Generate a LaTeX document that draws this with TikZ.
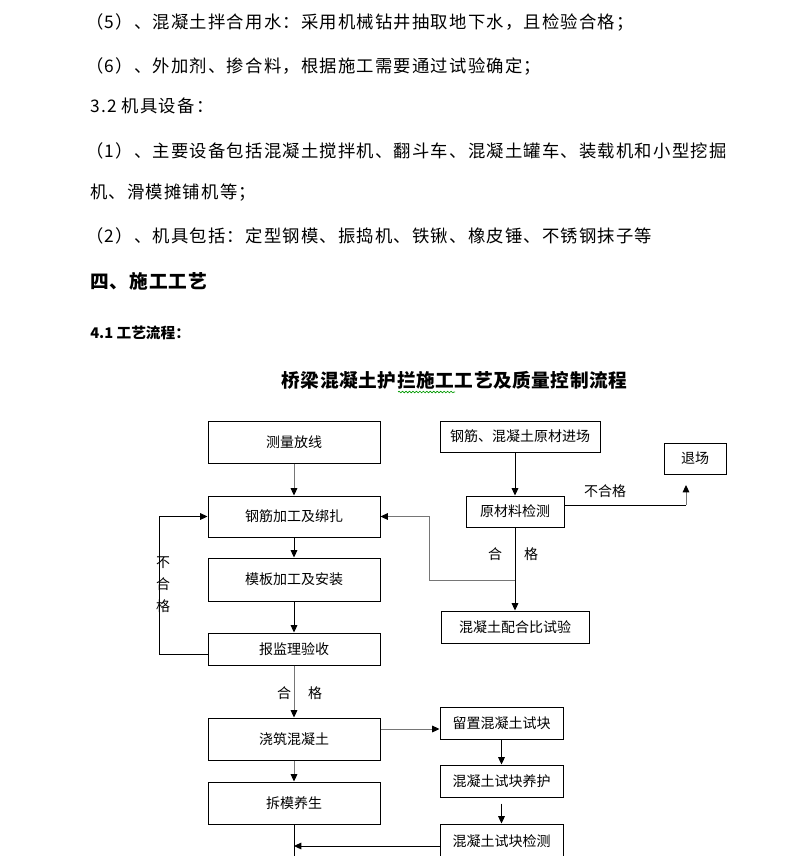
\documentclass[tikz,border=0pt]{standalone}
\usepackage{fontspec}
\setmainfont{Noto Sans CJK SC}
\newfontfamily\bodycjk[LetterSpace=7]{Noto Sans CJK SC}
\newfontfamily\headcjk[LetterSpace=5]{Noto Sans CJK SC}
\newfontfamily\titlecjk[LetterSpace=3]{Noto Sans CJK SC}
\usetikzlibrary{arrows.meta,decorations.pathmorphing}
\definecolor{linegray}{RGB}{118,118,118}
\tikzset{
  flowbox/.style 2 args={draw, line width=0.75pt, inner sep=0pt,
    minimum width=#1*0.75pt, minimum height=#2*0.75pt,
    font=\fontsize{10.5}{12}\selectfont},
  flowline/.style={line width=0.75pt},
  flowarrow/.style={line width=0.75pt, -{Triangle[length=5.5pt,width=5pt,color=black]}},
  bodytext/.style={anchor=west, inner sep=0pt, font=\bodycjk\fontsize{13}{15}\selectfont},
  tag/.style={inner sep=0pt, font=\fontsize{10.5}{12}\selectfont}
}
\begin{document}
\begin{tikzpicture}[x=0.75pt,y=-0.75pt]
    \useasboundingbox (0,0) rectangle (797,856);
    % text above the chart
    \node[bodytext] (item5) at (86,22) {（5）、混凝土拌合用水：采用机械钻井抽取地下水，且检验合格；};
    \node[bodytext] (item6) at (86,66) {（6）、外加剂、掺合料，根据施工需要通过试验确定；};
    \node[bodytext] (sec32) at (90,106) {3.2 机具设备：};
    \node[bodytext] (item1) at (86,151) {（1）、主要设备包括混凝土搅拌机、翻斗车、混凝土罐车、装载机和小型挖掘};
    \node[bodytext] (item1b) at (90,193) {机、滑模摊铺机等；};
    \node[bodytext] (item2) at (86,236) {（2）、机具包括：定型钢模、振捣机、铁锹、橡皮锤、不锈钢抹子等};
    \node[anchor=west, inner sep=0pt, font=\headcjk\bfseries\fontsize{14}{16}\selectfont] (sec4) at (90,281) {四、施工工艺};
    \node[anchor=west, inner sep=0pt, font=\bfseries\fontsize{11}{13}\selectfont] (sec41) at (90,333) {4.1 工艺流程：};
    \node[inner sep=0pt, font=\titlecjk\bfseries\fontsize{14}{16}\selectfont] (title) at (454.5,380) {桥梁混凝土护拦施工工艺及质量控制流程};
    \draw[green!60!black, line width=0.5pt, decorate, decoration={snake, amplitude=0.6pt, segment length=2.6pt}] (398,392) -- (455,392);
    % left column
    \node[flowbox={172}{42}] (survey) at (294,442) {测量放线};
    \node[flowbox={172}{41}] (rebar) at (294,516.5) {钢筋加工及绑扎};
    \node[flowbox={172}{43}] (form) at (294,579.5) {模板加工及安装};
    \node[flowbox={172}{32}] (check) at (294,649) {报监理验收};
    \node[flowbox={172}{42}] (pour) at (294,739) {浇筑混凝土};
    \node[flowbox={172}{42}] (strip) at (294,803) {拆模养生};
    % right column
    \node[flowbox={160}{31}] (raw) at (520,436.5) {钢筋、混凝土原材进场};
    \node[flowbox={62}{31}] (reject) at (695,458.5) {退场};
    \node[flowbox={98}{31}] (test) at (515,511.5) {原材料检测};
    \node[flowbox={148}{32}] (mix) at (515,627) {混凝土配合比试验};
    \node[flowbox={123}{32}] (sample) at (501.5,723) {留置混凝土试块};
    \node[flowbox={123}{32}] (cure) at (501.5,781) {混凝土试块养护};
    \node[flowbox={123}{34}] (test2) at (501.5,841) {混凝土试块检测};
    % bends and free ends
    \coordinate (lloop) at (159,654);
    \coordinate (mixjoin) at (515,580);
    \coordinate (rloop) at (429,580);
    \coordinate (rjcorner) at (686,505);
    \coordinate (rjtip) at (686,485);
    \coordinate (bottom) at (294,860);
    % connectors
    \draw[flowarrow, linegray] (survey) -- (rebar);
    \draw[flowarrow] (rebar) -- (form);
    \draw[flowarrow] (form) -- (check);
    \draw[flowarrow, linegray] (check) -- (pour);
    \draw[flowarrow, linegray] (pour) -- (strip);
    \draw[flowline] (strip) -- (bottom);
    \draw[flowarrow] ([yshift=-3.75pt]test2.west) -- ([yshift=-3.75pt]test2.west -| strip.south);
    \draw[flowarrow] (check.west |- lloop) -- (lloop) |- (rebar.west);
    \draw[flowarrow] (test.north |- raw.south) -- (test.north);
    \draw[flowarrow] (test) -- (mix);
    \draw[flowarrow, linegray] (mixjoin) -- (rloop) |- (rebar.east);
    \draw[flowline] (test.east |- rjcorner) -- (rjcorner);
    \draw[flowarrow, linegray] (rjcorner) -- (rjtip);
    \draw[flowarrow, linegray] ([yshift=7.5pt]pour.east) -- ([yshift=7.5pt]pour.east -| sample.west);
    \draw[flowarrow] (sample) -- (cure);
    \draw[flowarrow] ([yshift=-4.5pt]cure.south) -- (test2.north);
    % labels
    \node[tag, align=center, font=\fontsize{10.5}{16.5}\selectfont] (nopass) at (163,585) {不\\合\\格};
    \node[tag] (passl1) at (284,693) {合};
    \node[tag] (passl2) at (315,693) {格};
    \node[tag] (passr1) at (495,554) {合};
    \node[tag] (passr2) at (531,554) {格};
    \node[tag] (failr) at (605,491) {不合格};
\end{tikzpicture}
\end{document}
